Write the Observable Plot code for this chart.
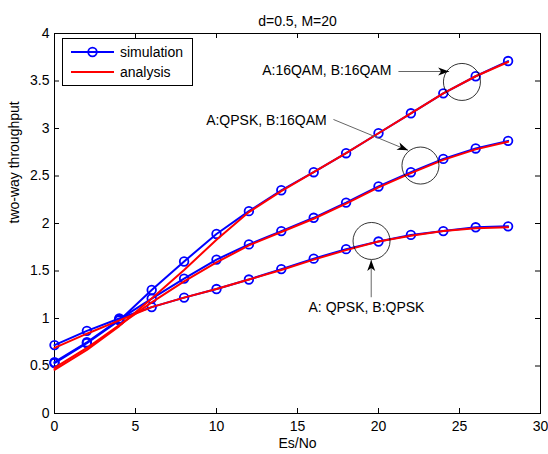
<!DOCTYPE html>
<html><head><meta charset="utf-8">
<script src="https://cdn.jsdelivr.net/npm/d3@7"></script>
<script src="https://cdn.jsdelivr.net/npm/@observablehq/plot@0.6"></script>
<style>
body{margin:0;background:#fff;font-family:"Liberation Sans",Arial,Helvetica,sans-serif;}
#wrap{position:relative;width:548px;height:454px;}
#legend{position:absolute;left:62px;top:38px;}
</style></head><body><div id="wrap"></div>
<script>
// ---- data ----
const esno = [0, 2, 4, 6, 8, 10, 12, 14, 16, 18, 20, 22, 24, 26, 28];
const simQPSK_QPSK   = [0.72, 0.87, 1.00, 1.12, 1.22, 1.31, 1.41, 1.52, 1.63, 1.73, 1.81, 1.88, 1.92, 1.96, 1.97];
const simQPSK_16QAM  = [0.54, 0.75, 0.99, 1.21, 1.42, 1.62, 1.78, 1.92, 2.06, 2.22, 2.39, 2.54, 2.68, 2.79, 2.87];
const sim16QAM_16QAM = [0.53, 0.74, 0.98, 1.30, 1.60, 1.89, 2.13, 2.35, 2.54, 2.74, 2.95, 3.16, 3.37, 3.55, 3.71];
const anaQPSK_QPSK   = [0.69, 0.84, 0.98, 1.12, 1.22, 1.31, 1.41, 1.51, 1.62, 1.72, 1.81, 1.87, 1.92, 1.95, 1.96];
const anaQPSK_16QAM  = [0.48, 0.69, 0.93, 1.17, 1.39, 1.59, 1.77, 1.91, 2.05, 2.21, 2.38, 2.53, 2.67, 2.78, 2.86];
const ana16QAM_16QAM = [0.46, 0.67, 0.92, 1.21, 1.51, 1.83, 2.12, 2.34, 2.54, 2.74, 2.95, 3.16, 3.37, 3.55, 3.70];
const seriesNames = ["QPSK/QPSK", "QPSK/16QAM", "16QAM/16QAM"];
const xTicks = [0, 5, 10, 15, 20, 25, 30];
const yTicks = [0, 0.5, 1, 1.5, 2, 2.5, 3, 3.5, 4];
const titleText = "d=0.5, M=20";
const xLabel = "Es/No";
const yLabel = "two-way throughput";
const legendLabels = ["simulation", "analysis"];
// annotations (data units)
const annText  = ["A:16QAM, B:16QAM", "A:QPSK, B:16QAM", "A: QPSK, B:QPSK"];
const annTextX = [12.82, 9.36, 15.68];
const annTextY = [3.61, 3.084, 1.116];
const circX = [25.15, 22.59, 19.57];
const circY = [3.49, 2.61, 1.816];
const arrX1 = [21.23, 17.22, 19.55];
const arrY1 = [3.60, 3.095, 1.224];
const arrX2 = [24.36, 21.83, 19.55];
const arrY2 = [3.60, 2.77, 1.615];

// ---- build tables ----
const sims = [simQPSK_QPSK, simQPSK_16QAM, sim16QAM_16QAM];
const anas = [anaQPSK_QPSK, anaQPSK_16QAM, ana16QAM_16QAM];
const simData = [], anaData = [];
seriesNames.forEach((s, i) => esno.forEach((x, j) => {
  simData.push({series: s, x, y: sims[i][j]});
  anaData.push({series: s, x, y: anas[i][j]});
}));
const texts = annText.map((t, i) => ({t, x: annTextX[i], y: annTextY[i]}));
const circles = circX.map((x, i) => ({x, y: circY[i]}));

const W = 548, H = 454, mL = 54, mR = 8, mT = 33, mB = 41;
const xs = Plot.scale({x: {domain: [0, 30], range: [mL, W - mR]}});
const ys = Plot.scale({y: {domain: [0, 4], range: [H - mB, mT]}});
const arrows = arrX1.map((x1, i) => {
  const dx = xs.apply(arrX2[i]) - xs.apply(x1);
  const dy = ys.apply(arrY2[i]) - ys.apply(arrY1[i]);
  return {x1, y1: arrY1[i], x2: arrX2[i], y2: arrY2[i], angle: Math.atan2(dx, -dy) * 180 / Math.PI};
});
const arrowHead = {
  draw(ctx) {
    ctx.moveTo(0, 0);
    ctx.lineTo(-4, 11);
    ctx.lineTo(0, 8);
    ctx.lineTo(4, 11);
    ctx.closePath();
  }
};

const fw = W - mL - mR, fh = H - mT - mB;
const font = '"Liberation Sans", Arial, Helvetica, sans-serif';
const chart = Plot.plot({
  width: W, height: H,
  marginLeft: mL, marginRight: mR, marginTop: mT, marginBottom: mB,
  style: {fontFamily: font, fontSize: "14px", background: "#fff", color: "#000"},
  x: {domain: [0, 30]},
  y: {domain: [0, 4]},
  marks: [
    Plot.frame({stroke: "#000", strokeWidth: 1}),
    Plot.ruleX(xTicks, {x: d => d, insetTop: fh - 5, stroke: "#000"}),
    Plot.ruleX(xTicks, {x: d => d, insetBottom: fh - 5, stroke: "#000"}),
    Plot.ruleY(yTicks, {y: d => d, insetRight: fw - 5, stroke: "#000"}),
    Plot.ruleY(yTicks, {y: d => d, insetLeft: fw - 5, stroke: "#000"}),
    Plot.axisX(xTicks, {tickSize: 0, tickPadding: 8, tickFormat: d => String(d), label: null, fontSize: 14}),
    Plot.axisY(yTicks, {tickSize: 0, tickPadding: 5, tickFormat: d => String(d), label: null, fontSize: 14}),
    Plot.text([titleText], {frameAnchor: "top", dy: -17.5, fontSize: 14}),
    Plot.text([xLabel], {frameAnchor: "bottom", dy: 34.5, fontSize: 14}),
    Plot.text([yLabel], {frameAnchor: "left", dx: -40, rotate: -90, fontSize: 14}),
    // simulation
    Plot.line(simData, {x: "x", y: "y", z: "series", stroke: "#0000ff", strokeWidth: 2}),
    Plot.dot(simData, {x: "x", y: "y", r: 4.3, stroke: "#0000ff", strokeWidth: 1.8, fill: "none"}),
    // analysis
    Plot.line(anaData, {x: "x", y: "y", z: "series", stroke: "#ff0000", strokeWidth: 2}),
    // annotations
    Plot.dot(circles, {x: "x", y: "y", r: 18.5, stroke: "#000", strokeWidth: 0.8, fill: "none"}),
    Plot.link(arrows, {x1: "x1", y1: "y1", x2: "x2", y2: "y2", stroke: "#666", strokeWidth: 1}),
    Plot.dot(arrows, {x: "x2", y: "y2", symbol: arrowHead, rotate: "angle", fill: "#000", stroke: "none", r: 5}),
    Plot.text(texts, {x: "x", y: "y", text: "t", textAnchor: "start", fontSize: 14, fill: "#000"})
  ]
});
const wrap = document.getElementById("wrap");
wrap.appendChild(chart);

// legend overlay
const lg = document.createElement("div");
lg.id = "legend";
lg.innerHTML = `<svg width="131" height="48" xmlns="http://www.w3.org/2000/svg" style="display:block">
  <rect x="0.5" y="0.5" width="130" height="47" fill="#fff" stroke="#000" stroke-width="1"/>
  <line x1="9" y1="14" x2="52" y2="14" stroke="#0000ff" stroke-width="2"/>
  <circle cx="30.5" cy="14" r="4.3" fill="none" stroke="#0000ff" stroke-width="1.8"/>
  <text x="58" y="14" dominant-baseline="central" font-size="14" font-family='${font}'>${legendLabels[0]}</text>
  <line x1="9" y1="34" x2="52" y2="34" stroke="#ff0000" stroke-width="2"/>
  <text x="58" y="34" dominant-baseline="central" font-size="14" font-family='${font}'>${legendLabels[1]}</text>
</svg>`;
wrap.appendChild(lg);
</script>
</body></html>
